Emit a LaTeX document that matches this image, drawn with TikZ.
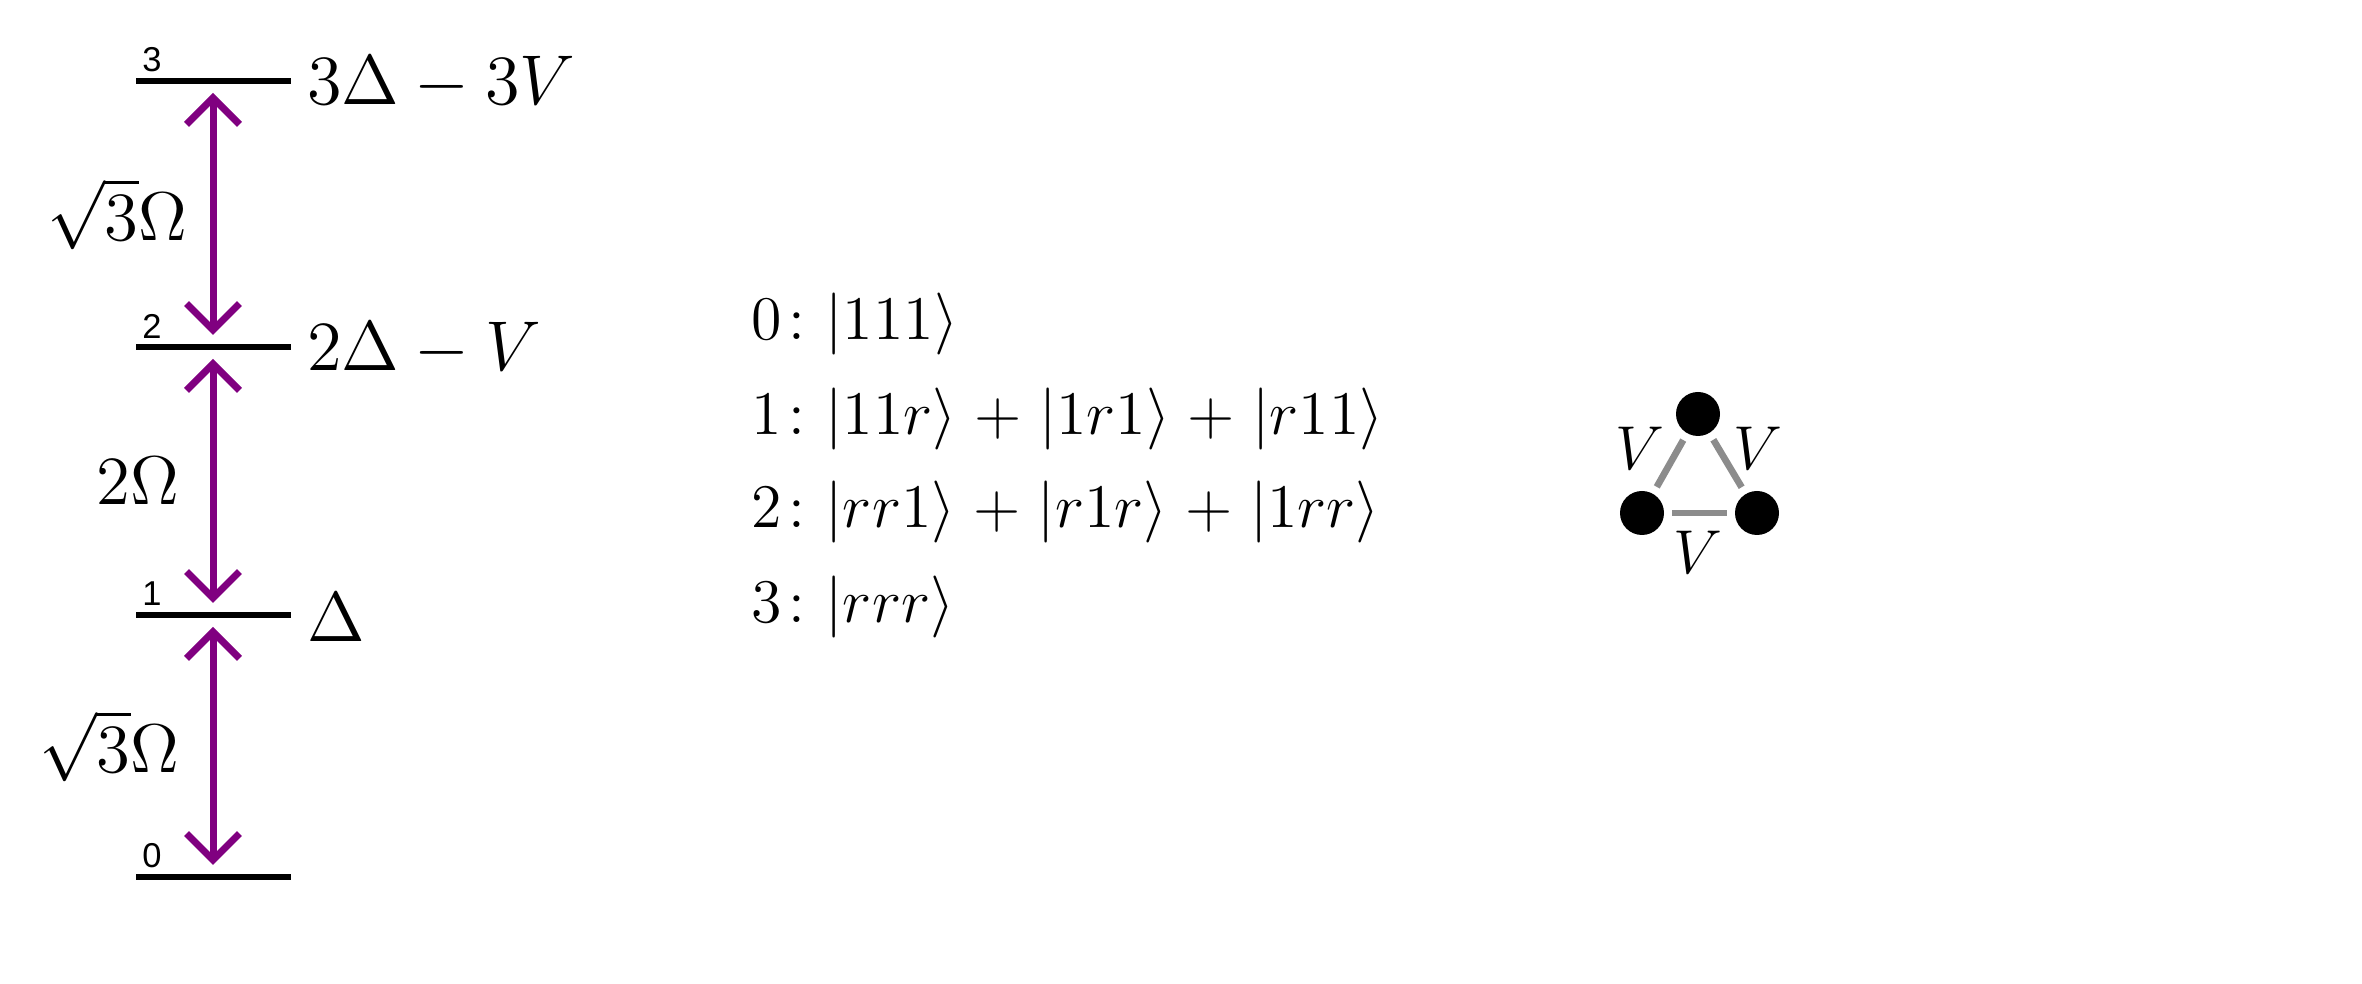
\RequirePackage{fix-cm}
\documentclass[tikz,border=0pt]{standalone}
\usepackage{amsmath}
\usepackage{fontspec}
\newfontfamily\lvlfont{Liberation Sans}
\usetikzlibrary{arrows.meta}
\definecolor{arrpurple}{RGB}{128,0,128}
\definecolor{edgegray}{RGB}{140,140,140}
\newcommand{\wideplus}{\medmuskip=5.1mu\relax}
\tikzset{
  levelline/.style={line width=1.3pt},
  coup/.style={arrpurple, line width=1.4pt,
    {Straight Barb[length=5.3pt,width=10.6pt]}-{Straight Barb[length=5.3pt,width=10.6pt]},
    shorten <=2.4pt, shorten >=2.4pt},
  clab/.style={inner sep=0pt, anchor=east, text=black, font=\fontsize{13.8}{16}\selectfont},
  elab/.style={inner sep=0pt, anchor=west, font=\fontsize{14.1}{17}\selectfont},
  nlab/.style={inner sep=0pt, font=\lvlfont\fontsize{6.9}{8}\selectfont},
  slab/.style={inner sep=0pt, anchor=west, font=\fontsize{12.4}{15}\selectfont},
  atom/.style={circle, fill=black, minimum size=8.8pt, inner sep=0pt},
  bond/.style={edgegray, line width=1.35pt, shorten <=1.4pt, shorten >=1.4pt},
  vlab/.style={inner sep=0pt, font=\fontsize{12.4}{15}\selectfont},
}
\begin{document}
\begin{tikzpicture}[x=0.2pt,y=-0.2pt]
\useasboundingbox (0,0) rectangle (2362,984);
% level coordinates
\coordinate (L3) at (213,81);
\coordinate (L2) at (213,347);
\coordinate (L1) at (213,615);
\coordinate (L0) at (213,877);
% level lines
\draw[levelline] (136,81) -- (291,81);
\draw[levelline] (136,347) -- (291,347);
\draw[levelline] (136,615) -- (291,615);
\draw[levelline] (136,877) -- (291,877);
% level numbers
\node[nlab] (n3) at (152,60) {3};
\node[nlab] (n2) at (152,326) {2};
\node[nlab] (n1) at (152,594) {1};
\node[nlab] (n0) at (152,856) {0};
% energies
\node[elab] (e3) at (306,83) {$3\Delta - 3V$};
\node[elab] (e2) at (306,349) {$2\Delta - V$};
\node[elab] (e1) at (306,617) {$\Delta$};
% couplings
\draw[coup] (L3) -- node[clab, xshift=-4.4pt] (c32) {$\sqrt{3}\Omega$} (L2);
\draw[coup] (L2) -- node[clab, xshift=-6pt] (c21) {$2\Omega$} (L1);
\draw[coup] (L1) -- node[clab, xshift=-6pt] (c10) {$\sqrt{3}\Omega$} (L0);
% state list
\node[slab] (s0) at (750,324) {$0\colon |111\rangle$};
\node[slab] (s1) at (750,419) {$\wideplus 1\colon |11r\rangle + |1r1\rangle + |r11\rangle$};
\node[slab] (s2) at (750,512) {$\wideplus 2\colon |rr1\rangle + |r1r\rangle + |1rr\rangle$};
\node[slab] (s3) at (750,607) {$3\colon |rrr\rangle$};
% triangle
\node[atom] (t1) at (1698,414) {};
\node[atom] (t2) at (1642,513) {};
\node[atom] (t3) at (1757,513) {};
\draw[bond] (t1) -- (t2);
\draw[bond] (t1) -- (t3);
\draw[bond] (t2) -- (t3);
\node[vlab] (v12) at (1640,448) {$V$};
\node[vlab] (v13) at (1758,448) {$V$};
\node[vlab] (v23) at (1698,552) {$V$};
\end{tikzpicture}
\end{document}
